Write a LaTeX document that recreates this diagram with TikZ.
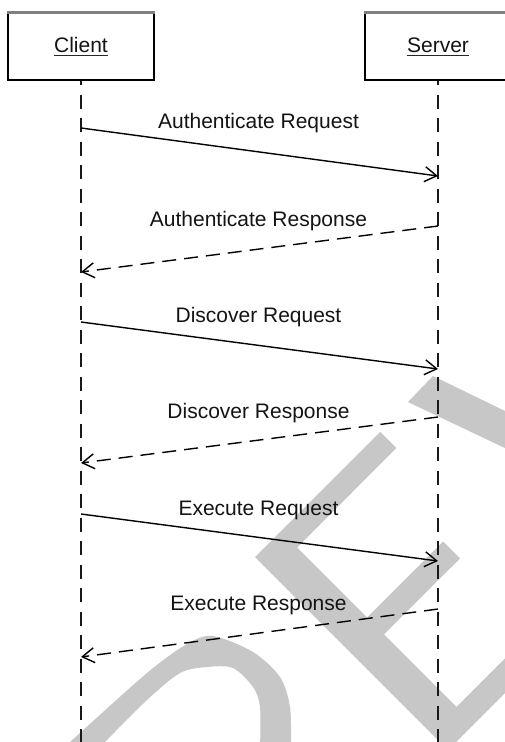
\documentclass[tikz,border=0pt]{standalone}
\usepackage{fontspec}
\setmainfont{Liberation Sans}
\usetikzlibrary{arrows.meta}
\begin{document}
\begin{tikzpicture}[x=1pt,y=-1pt,
  lbl/.style={font=\fontsize{21}{25}\selectfont, text=black!92, inner sep=0pt, anchor=base},
  actorbox/.style={draw=black, line width=1.4pt, minimum width=146pt, minimum height=67pt, inner sep=0pt},
  topedge/.style={draw=gray, line width=2.5pt},
  uline/.style={draw=black!85, line width=1.5pt},
  life/.style={draw=black!90, line width=1.7pt, dash pattern=on 14pt off 9.5pt, dash phase=9.5pt},
  msg/.style={draw=black, line width=1.4pt, -{Straight Barb[length=12pt,width=15pt]}},
  reply/.style={msg, dash pattern=on 14pt off 8pt},
  wm/.style={fill=black!22}
]
\useasboundingbox (0,0) rectangle (505,742);
\clip (0,0) rectangle (505,742);
\fill[white] (0,0) rectangle (505,742);

% watermark pieces
\fill[wm] (433,376) -- (510,413.4) -- (510,450.4) -- (408,402) -- cycle;
\fill[wm] (255,557) -- (380.2,431.8) -- (396.4,448.0) -- (297.1,547.5) -- (367.1,617.5)
  -- (443.1,541.5) -- (460.0,558.5) -- (384.0,634.4) -- (456.5,706.9) -- (561.5,601.9)
  -- (578.8,619.2) -- (448.0,750.0) -- cycle;
\fill[wm] plot[smooth, tension=0.5] coordinates {(62,750) (70,742) (147,673) (187,644) (213,636) (253,652) (280,677) (290,707) (291,750)}
  -- plot[smooth, tension=0.5] coordinates {(260,750) (260,707) (253,687) (233,668) (207,667) (180,673) (147,700) (107,740) (99,750)} -- cycle;

% actors
\node[actorbox] (client) at (81,46.5) {};
\node[actorbox] (server) at (438,46.5) {};
\draw[topedge] (client.north west) -- (client.north east);
\draw[topedge] (server.north west) -- (server.north east);
\node[lbl] (clientlbl) at (81,52) {Client};
\node[lbl] (serverlbl) at (438,52) {Server};
\draw[uline] ([yshift=-3.5pt]clientlbl.base west) -- ([yshift=-3.5pt]clientlbl.base east);
\draw[uline] ([yshift=-3.5pt]serverlbl.base west) -- ([yshift=-3.5pt]serverlbl.base east);

% lifelines
\coordinate (cend) at (81,742);
\coordinate (send) at (438,742);
\draw[life] (client.south) -- (cend);
\draw[life] (server.south) -- (send);

% message points
\coordinate (c1) at (81,128);  \coordinate (s1) at (438,176);
\coordinate (s2) at (438,226); \coordinate (c2) at (81,272);
\coordinate (c3) at (81,322);  \coordinate (s3) at (438,369);
\coordinate (s4) at (438,417); \coordinate (c4) at (81,463);
\coordinate (c5) at (81,514);  \coordinate (s5) at (438,561);
\coordinate (s6) at (438,609); \coordinate (c6) at (81,657);

\draw[msg] (c1) -- (s1);
\draw[reply] (s2) -- (c2);
\draw[msg] (c3) -- (s3);
\draw[reply] (s4) -- (c4);
\draw[msg] (c5) -- (s5);
\draw[reply] (s6) -- (c6);

\node[lbl] (m1) at (258.5,128) {Authenticate Request};
\node[lbl] (m2) at (258.5,226) {Authenticate Response};
\node[lbl] (m3) at (258.5,322) {Discover Request};
\node[lbl] (m4) at (258.5,418) {Discover Response};
\node[lbl] (m5) at (258.5,515) {Execute Request};
\node[lbl] (m6) at (258.5,610) {Execute Response};
\end{tikzpicture}
\end{document}
